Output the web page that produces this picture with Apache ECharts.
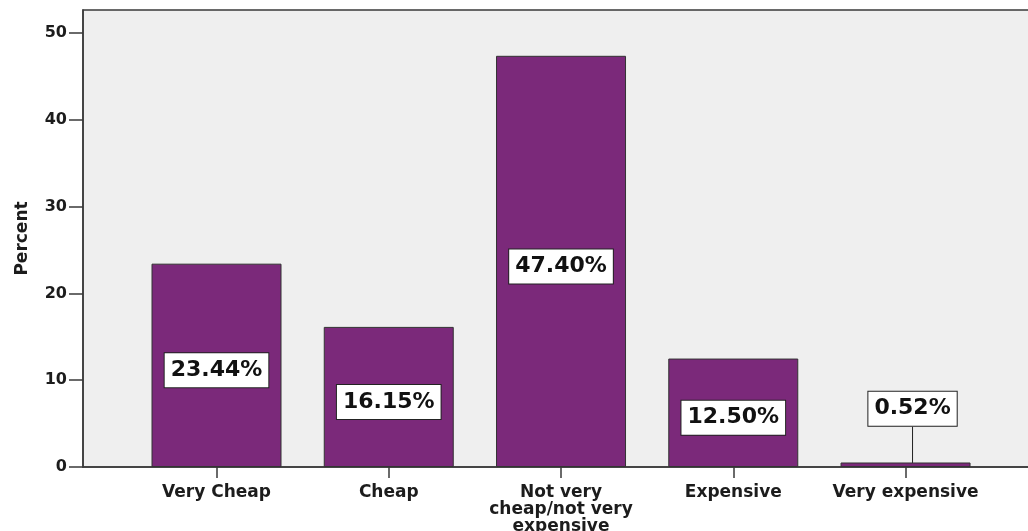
<!DOCTYPE html>
<html>
<head>
<meta charset="utf-8">
<script src="https://cdn.jsdelivr.net/npm/echarts@6/dist/echarts.min.js"></script>
<style>
  html, body { margin: 0; padding: 0; background: #ffffff; }
  #chart { width: 1028px; height: 531px; }
</style>
</head>
<body>
<div id="chart"></div>
<script>
// Price perception categories and their share of respondents (%)
const categories = ['Very Cheap', 'Cheap', 'Not very\ncheap/not very\nexpensive', 'Expensive', 'Very expensive'];
const percents = [23.44, 16.15, 47.40, 12.50, 0.52];
const yTicks = [0, 10, 20, 30, 40, 50];

const FONT = 'DejaVu Sans';
const INK = '#1c1c1c';
const categoryIndex = categories.map((c, i) => i);

const chart = echarts.init(document.getElementById('chart'), null, { renderer: 'canvas' });

chart.setOption({
  animation: false,
  backgroundColor: '#ffffff',
  grid: {
    left: 83,
    top: 10,
    right: -20,
    bottom: 64,
    outerBoundsMode: 'none',
    containLabel: false,
    show: true,
    backgroundColor: '#efefef',
    borderColor: '#3a3a3a',
    borderWidth: 1.5
  },
  xAxis: {
    type: 'value',
    min: -0.775,
    max: 4.827,
    splitLine: { show: false },
    axisLine: { show: true, onZero: false, lineStyle: { color: '#3a3a3a', width: 1.5 } },
    axisTick: {
      show: true,
      length: 11,
      customValues: categoryIndex,
      lineStyle: { color: '#3a3a3a', width: 1.5 }
    },
    axisLabel: {
      customValues: categoryIndex,
      formatter: v => categories[Math.round(v)],
      fontFamily: FONT,
      fontWeight: 'bold',
      fontSize: 17,
      lineHeight: 17,
      color: INK,
      margin: 17,
      verticalAlign: 'top'
    }
  },
  yAxis: {
    type: 'value',
    min: 0,
    max: 52.68,
    name: 'Percent',
    nameLocation: 'middle',
    nameGap: 52,
    nameTextStyle: { fontFamily: FONT, fontWeight: 'bold', fontSize: 17, color: INK },
    splitLine: { show: false },
    axisLine: { show: true, onZero: false, lineStyle: { color: '#3a3a3a', width: 1.5 } },
    axisTick: {
      show: true,
      length: 14,
      customValues: yTicks,
      lineStyle: { color: '#3a3a3a', width: 1.5 }
    },
    axisLabel: {
      customValues: yTicks,
      fontFamily: FONT,
      fontWeight: 'bold',
      fontSize: 16,
      color: INK,
      margin: 16
    }
  },
  series: [{
    type: 'bar',
    barWidth: 130,
    data: percents.map((p, i) => [i, p]),
    itemStyle: { color: '#7b297a', borderColor: '#333333', borderWidth: 1 },
    label: {
      show: true,
      position: 'inside',
      formatter: p => p.value[1].toFixed(2) + '%',
      fontFamily: FONT,
      fontWeight: 'bold',
      fontSize: 22,
      color: '#111111',
      backgroundColor: '#ffffff',
      borderColor: '#222222',
      borderWidth: 1,
      padding: [6, 6, 6, 6]
    },
    labelLine: {
      show: true,
      lineStyle: { color: '#222222', width: 1 }
    },
    // value boxes sit just below the bar middle; the thin last bar gets
    // its box lifted above it with a guide line
    labelLayout: params => params.dataIndex === percents.length - 1
      ? { dx: 7, dy: -56 }
      : { dy: 5 }
  }]
});
</script>
</body>
</html>
